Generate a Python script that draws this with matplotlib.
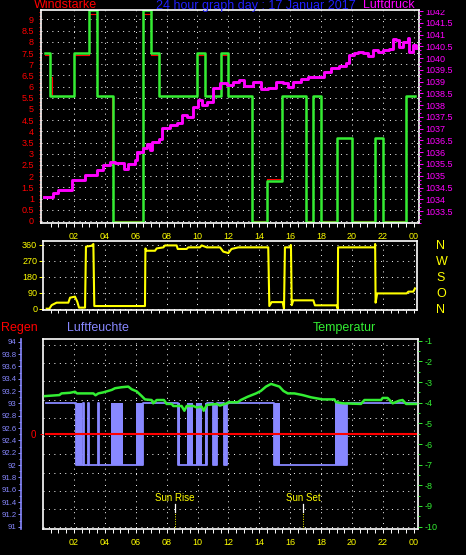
import matplotlib
matplotlib.use("Agg")
import matplotlib.pyplot as plt
from matplotlib import rcParams
from matplotlib.ticker import FixedLocator, MultipleLocator, FuncFormatter
from matplotlib.transforms import Bbox, TransformedBbox
import numpy as np

rcParams["font.family"] = ["Liberation Sans Narrow", "Liberation Sans", "DejaVu Sans"]
rcParams["axes.unicode_minus"] = False

# ---- data (hours of day 0..24) ----
gust_t = [0.13, 0.45, 2.0, 3.0, 3.5, 4.5, 6.5, 7.0, 7.5, 10.0, 10.5, 11.5, 12.0,
          13.5, 14.5, 15.5, 17.0, 17.5, 18.0, 19.0, 20.0, 21.5, 22.0, 23.5, 24.1]
gust_v = [7.5, 5.56, 7.5, 9.4, 5.56, -0.05, 9.4, 7.5, 5.56, 7.5, 5.56, 7.5, 5.56,
          -0.05, 1.8, 5.56, -0.05, 5.56, -0.05, 3.7, -0.05, 3.7, -0.05, 5.56, 5.56]

wind_t = [0.13, 0.45, 0.56, 2.0, 3.0, 3.5, 4.47, 4.56, 6.5, 7.0, 7.5, 10.0, 10.5, 11.5,
          12.0, 13.5, 13.56, 14.5, 15.5, 17.0, 17.5, 18.0, 19.0, 20.0, 21.5, 22.0, 23.5, 24.1]
wind_v = [7.41, 6.44, 5.56, 7.41, 9.26, 5.56, 2.6, 0, 9.26, 7.41, 5.56, 7.41, 5.56, 7.41,
          5.56, 2.77, 0, 1.87, 5.56, 0, 5.56, 0, 3.7, 0, 3.7, 0, 5.56, 5.56]

press_t = [0.05, 0.67, 0.99, 1.64, 1.86, 2.39, 2.72, 3.48, 3.90, 4.34, 4.66, 5.24, 5.52,
           5.95, 6.06, 6.49, 6.71, 6.93, 7.07, 7.53, 7.72, 8.22, 8.65, 8.98, 9.30, 9.73,
           10.05, 10.27, 10.60, 11.02, 11.46, 11.89, 12.32, 12.71, 13.03, 13.57, 14.11,
           14.54, 15.08, 15.51, 15.84, 16.16, 16.70, 17.13, 17.67, 18.21, 18.64, 19.18,
           19.61, 19.83, 20.15, 20.37, 20.69, 21.02, 21.34, 21.66, 21.99, 22.41, 22.63,
           22.85, 23.06, 23.28, 23.61, 23.71, 23.93, 24.14]
press_v = [1034.11, 1034.25, 1034.39, 1034.39, 1034.82, 1034.82, 1035.03, 1035.24, 1035.46,
           1035.60, 1035.53, 1035.27, 1035.49, 1035.67, 1036.02, 1036.17, 1036.34, 1036.10,
           1036.45, 1036.55, 1037.02, 1037.16, 1037.26, 1037.58, 1037.51, 1037.94, 1038.22,
           1038.01, 1038.15, 1038.72, 1038.93, 1038.86, 1039.00, 1039.07, 1038.82, 1039.00,
           1038.68, 1038.72, 1039.00, 1038.93, 1038.76, 1039.00, 1039.10, 1039.19, 1039.22,
           1039.43, 1039.57, 1039.67, 1039.81, 1040.14, 1040.21, 1040.28, 1040.21, 1040.10,
           1040.35, 1040.28, 1040.35, 1040.38, 1040.80, 1040.78, 1040.49, 1040.70, 1040.85,
           1040.28, 1040.56, 1040.42]

dir_t = [0.24, 0.41, 0.56, 0.88, 1.64, 1.75, 2.07, 2.22, 2.33, 2.72, 2.78, 3.15, 3.26, 3.32,
         6.6, 6.63, 6.7, 7.25, 7.36, 7.79, 7.9, 8.65, 8.72, 9.3, 9.4, 10.16, 10.27, 10.6,
         11.46, 11.67, 12.0, 12.2, 12.64, 14.58, 14.65, 14.8, 15.51, 15.6, 15.66, 15.98,
         16.05, 16.1, 16.2, 17.5, 17.6, 19.0, 19.08, 19.1, 21.49, 21.5, 21.53, 21.63,
         23.54, 23.65, 23.97, 24.08]
dir_v = [0, 0, 20, 34, 34, 62, 68, 39, 6, 6, 349, 354, 364, 15,
         15, 339, 326, 326, 339, 345, 356, 356, 336, 336, 345, 345, 356, 345,
         345, 321, 313, 336, 345, 345, 15, 37, 37, 0, 345, 345,
         358, 20, 47, 47, 19, 19, 0, 345, 345, 364, 34, 86,
         86, 96, 96, 114]

hum_t = [0.19, 2.14, 2.5, 2.6, 2.66, 2.9, 3.0, 3.55, 3.62, 4.4, 5.16, 6.0, 6.45, 8.76,
         10.6, 10.98, 11.24, 11.72, 11.9, 14.97, 15.34, 18.92, 19.66, 24.14]
hum_v = [93, 92, 92, 93, 92, 93, 92, 93, 92, 92, 92, 92, 93, 92,
         93, 92, 93, 92, 93, 92, 92, 92, 93, 93]
hum_block_start = [2.14, 4.4, 6.0, 8.76, 9.34, 9.9, 10.49, 10.98, 11.72, 14.97, 18.92]
hum_block_end = [2.5, 5.16, 6.45, 8.87, 9.69, 10.27, 10.6, 11.24, 11.9, 15.34, 19.66]

rain_t = [0.2, 24.14]
rain_v = [0, 0]

temp_t = [0.13, 1.06, 1.2, 1.75, 2.07, 2.2, 3.26, 3.4, 3.58, 3.9, 4.45, 4.66, 5.09, 5.52,
          5.74, 6.06, 6.39, 6.6, 7.03, 7.13, 7.36, 7.83, 8.0, 8.33, 8.43, 8.97, 9.15, 9.3,
          9.73, 9.95, 10.27, 10.4, 10.6, 11.24, 11.45, 11.9, 12.0, 12.6, 12.8, 13.25,
          13.79, 14.1, 14.43, 14.76, 14.97, 15.3, 15.56, 15.84, 16.27, 16.8, 17.35, 18.1,
          18.86, 18.96, 19.4, 20.58, 20.8, 21.88, 21.98, 22.3, 22.63, 23.06, 23.27, 23.5,
          24.14]
temp_v = [-3.68, -3.63, -3.55, -3.52, -3.47, -3.55, -3.55, -3.64, -3.55, -3.5, -3.38, -3.3,
          -3.25, -3.22, -3.35, -3.45, -3.68, -3.84, -3.87, -4.03, -3.87, -3.87, -4.06, -4.06,
          -4.16, -4.16, -4.39, -4.16, -4.16, -4.23, -4.19, -4.39, -4.11, -4.06, -4.14, -4.03,
          -3.98, -3.98, -3.87, -3.71, -3.55, -3.43, -3.22, -3.09, -3.14, -3.22, -3.43, -3.55,
          -3.55, -3.63, -3.74, -3.84, -3.84, -3.97, -4.03, -4.06, -3.87, -3.87, -3.77, -3.77,
          -4.03, -3.9, -3.87, -4.06, -4.06]

sunrise = 8.52
sunset = 16.85
hour_ticks = list(range(2, 25, 2))
hour_minor = list(np.arange(0.5, 24.3, 0.5))

RED = "#ff0000"
GREEN = "#33ee33"
MAGENTA = "#ff00ff"
BLUE = "#2020ff"
HUM = "#8888ff"
YELLOW = "#ffff00"
GRID_LS = (0, (1, 4.6))

W, H = 466, 555
fig = plt.figure(figsize=(W / 100, H / 100), dpi=100, facecolor="black")


def rect(x0, y0, x1, y1):
    return [x0 / W, 1 - y1 / H, (x1 - x0) / W, (y1 - y0) / H]


fmt_g = FuncFormatter(lambda v, p: f"{round(v, 1):g}")
fmt_hour = FuncFormatter(lambda v, p: f"{int(round(v)) % 24:02d}")


def time_axis(ax, xlim, labels=True, minor_len=3):
    ax.set_xlim(*xlim)
    ax.xaxis.set_major_locator(FixedLocator(hour_ticks))
    ax.xaxis.set_minor_locator(FixedLocator(hour_minor))
    ax.xaxis.set_major_formatter(fmt_hour)
    ax.tick_params(axis="x", which="both", colors="white", width=0.7, length=minor_len,
                   labelcolor=YELLOW, labelsize=6.5, pad=3.5, labelbottom=labels)
    ax.grid(True, axis="x", color="white", lw=0.7, ls=GRID_LS)
    for s in ax.spines.values():
        s.set_color("white")
        s.set_linewidth(1.2)
    ax.set_facecolor("black")


# ---- top: wind speed & pressure ----
ax1 = fig.add_axes(rect(41, 10, 418.7, 223))
time_axis(ax1, (-0.13, 24.32))
ax1.set_ylim(-0.09, 9.42)
ax1.yaxis.set_major_locator(MultipleLocator(0.5))
ax1.yaxis.set_minor_locator(MultipleLocator(0.5 / 3))
ax1.yaxis.set_major_formatter(fmt_g)
ax1.tick_params(axis="y", which="both", colors=RED, length=1.6, width=0.7,
                labelsize=6.5, pad=3.5)
ax1.grid(True, axis="y", color="white", lw=0.7, ls=GRID_LS)
ax1.step(wind_t, wind_v, where="post", color=RED, lw=0.8)
ax1.step(gust_t, gust_v, where="post", color=GREEN, lw=1.8)

axp = ax1.twinx()
axp.set_ylim(1032.99, 1042.05)
axp.yaxis.set_major_locator(FixedLocator(list(np.arange(1033.5, 1042.01, 0.5))))
axp.yaxis.set_minor_locator(MultipleLocator(0.5 / 3))
axp.yaxis.set_major_formatter(fmt_g)
axp.tick_params(axis="y", which="major", colors=MAGENTA, length=3, width=0.7,
                labelsize=6.5, pad=1.5)
axp.tick_params(axis="y", which="minor", colors=MAGENTA, length=1.6, width=0.7)
for s in axp.spines.values():
    s.set_visible(False)
axp.plot(press_t, press_v, color=MAGENTA, lw=2.1, drawstyle="steps-post")
clip = TransformedBbox(Bbox([[-1, 0], [2, 1]]), axp.transAxes)
for tk in axp.yaxis.get_major_ticks():
    tk.label2.set_clip_box(clip)
    tk.label2.set_clip_on(True)

fig.text(34 / W, 1 - 8.5 / H, "Windstärke", color=RED, fontsize=9, va="baseline")
fig.text(256 / W, 1 - 8.5 / H, "24 hour graph day : 17 Januar 2017", color=BLUE,
         fontsize=9, va="baseline", ha="center")
fig.text(415 / W, 1 - 8.5 / H, "Luftdruck", color=MAGENTA, fontsize=9,
         va="baseline", ha="right")

# ---- middle: wind direction ----
ax2 = fig.add_axes(rect(42.7, 241, 416.7, 310))
time_axis(ax2, (-0.02, 24.19), labels=False, minor_len=2)
ax2.set_ylim(-7.3, 380.8)
ax2.yaxis.set_major_locator(FixedLocator([0, 90, 180, 270, 360]))
ax2.tick_params(axis="y", colors=YELLOW, length=3, width=0.7, labelsize=6.5, pad=1)
ax2.grid(True, axis="y", color="white", lw=0.7, ls=GRID_LS)
ax2.plot(dir_t, dir_v, color=YELLOW, lw=1.5)

ax2r = ax2.twinx()
ax2r.set_ylim(ax2.get_ylim())
ax2r.yaxis.set_major_locator(FixedLocator([0, 90, 180, 270, 360]))
ax2r.set_yticklabels(["N", "O", "S", "W", "N"])
ax2r.tick_params(axis="y", length=0, labelcolor=YELLOW, labelsize=9, pad=14)
for s in ax2r.spines.values():
    s.set_visible(False)

# ---- bottom: rain, humidity, temperature ----
r3 = rect(43, 339.3, 417.7, 529.3)
g3 = fig.add_axes(r3)
time_axis(g3, (0, 24.25))
g3.set_ylim(-0.11, 10.3)
g3.yaxis.set_major_locator(FixedLocator(list(range(11))))
g3.tick_params(axis="y", length=0, labelleft=False)
g3.grid(True, axis="y", color="white", lw=0.7, ls=GRID_LS)
g3.set_zorder(0)

axh = fig.add_axes(r3, sharex=g3, facecolor="none")
axh.set_zorder(1)
axh.set_ylim(90.96, 94.04)
axh.yaxis.set_major_locator(FixedLocator(list(np.arange(91, 94.01, 0.2))))
axh.yaxis.set_minor_locator(MultipleLocator(0.1))
axh.yaxis.set_major_formatter(fmt_g)
for name, s in axh.spines.items():
    s.set_visible(name == "left")
axh.spines["left"].set_position(("outward", 15.8))
axh.spines["left"].set_color(HUM)
axh.spines["left"].set_linewidth(1.2)
axh.tick_params(axis="y", which="major", colors=HUM, length=2.2, width=0.7,
                labelsize=5.6, pad=1)
axh.tick_params(axis="y", which="minor", colors=HUM, length=1.3, width=0.7)
axh.xaxis.set_visible(False)
for a, b in zip(hum_block_start, hum_block_end):
    axh.fill_between([a, b], 92, 93, color=HUM, lw=0)
axh.step(hum_t, hum_v, where="post", color=HUM, lw=1.3)

axr = fig.add_axes(r3, sharex=g3, facecolor="none")
axr.set_zorder(2)
axr.set_ylim(-1, 1)
axr.yaxis.set_major_locator(FixedLocator([0]))
axr.tick_params(axis="y", colors=RED, length=2.5, width=0.7, labelsize=7, pad=2.5)
axr.xaxis.set_visible(False)
for s in axr.spines.values():
    s.set_visible(False)
axr.plot(rain_t, rain_v, color=RED, lw=1.5)

axt = fig.add_axes(r3, sharex=g3, facecolor="none")
axt.set_zorder(3)
axt.set_ylim(-10.13, -0.93)
axt.yaxis.tick_right()
axt.yaxis.set_major_locator(FixedLocator(list(range(-10, 0))))
axt.yaxis.set_minor_locator(MultipleLocator(0.5))
axt.tick_params(axis="y", which="major", colors=GREEN, length=3, width=0.7,
                labelsize=6.5, pad=2)
axt.tick_params(axis="y", which="minor", colors=GREEN, length=1.5, width=0.7)
axt.xaxis.set_visible(False)
for s in axt.spines.values():
    s.set_visible(False)
axt.plot(temp_t, temp_v, color=GREEN, lw=1.8)

tr = axt.get_xaxis_transform()
for when, label in [(sunrise, "Sun Rise"), (sunset, "Sun Set")]:
    axt.plot([when, when], [0.093, 0.133], color="white", lw=0.9, transform=tr)
    axt.plot([when, when], [0.0, 0.093], color=YELLOW, lw=0.7, ls=(0, (1, 1.5)),
             transform=tr)
    axt.text(when, 0.166, label, color=YELLOW, fontsize=7, ha="center", va="center",
             transform=tr)

fig.text(1 / W, 1 - 331 / H, "Regen", color=RED, fontsize=9, va="baseline")
fig.text(67 / W, 1 - 331 / H, "Luftfeuchte", color=HUM, fontsize=9, va="baseline")
fig.text(313 / W, 1 - 331 / H, "Temperatur", color=GREEN, fontsize=9, va="baseline")

fig.savefig("out.png", dpi=100, facecolor="black")
